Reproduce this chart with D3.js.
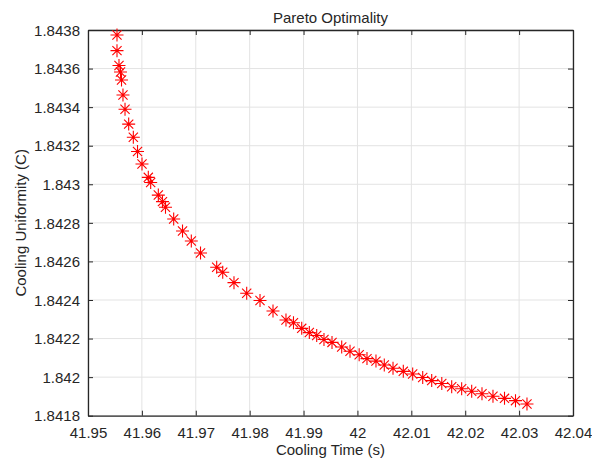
<!DOCTYPE html>
<html><head><meta charset="utf-8">
<script src="https://cdn.jsdelivr.net/npm/d3@7"></script>
<style>body{margin:0;background:#fff}svg{display:block}text{font-family:"Liberation Sans",Arial,sans-serif;fill:#262626}</style>
</head><body><svg id="c" width="592" height="459"></svg>
<script>
const coolingTime = [41.95538,41.95538,41.95575,41.95603,41.95622,41.95649,41.95687,41.95755,41.95841,41.95919,
41.96002,41.96119,41.96163,41.96305,41.96382,41.96438,41.96590,41.96754,41.96917,41.97088,
41.97388,41.97500,41.97709,41.97945,41.98192,41.98433,41.98674,41.98813,41.98966,41.99107,
41.99244,41.99379,41.99528,41.99708,41.99862,42.00032,42.00177,42.00344,42.00498,42.00660,
42.00851,42.01025,42.01211,42.01378,42.01565,42.01749,42.01934,42.02120,42.02311,42.02515,
42.02729,42.02933,42.03146];
const coolingUniformity = [1.843774,1.843693,1.843616,1.843582,1.843541,1.843463,1.843389,1.843312,1.843244,1.843170,
1.843105,1.843036,1.843009,1.842944,1.842910,1.842881,1.842820,1.842758,1.842706,1.842644,
1.842570,1.842544,1.842490,1.842435,1.842397,1.842343,1.842296,1.842282,1.842253,1.842231,
1.842216,1.842195,1.842180,1.842156,1.842134,1.842116,1.842096,1.842083,1.842063,1.842046,
1.842030,1.842016,1.841998,1.841982,1.841967,1.841950,1.841940,1.841927,1.841914,1.841901,
1.841890,1.841878,1.841861];
const xTicks = [41.95,41.96,41.97,41.98,41.99,42,42.01,42.02,42.03,42.04];
const yTicks = [1.8418,1.842,1.8422,1.8424,1.8426,1.8428,1.843,1.8432,1.8434,1.8436,1.8438];
const titleText = "Pareto Optimality";
const xLabel = "Cooling Time (s)";
const yLabel = "Cooling Uniformity (C)";

const svg = d3.select("#c");
const L=88, R=573, T=30, B=415.7;
const x = d3.scaleLinear().domain([41.95,42.04]).range([L,R]);
const y = d3.scaleLinear().domain([1.8418,1.8438]).range([B,T]);
const axCol = "#262626";

// grid
svg.append("g").selectAll("line").data(xTicks).join("line")
  .attr("x1",d=>x(d)).attr("x2",d=>x(d)).attr("y1",T).attr("y2",B)
  .attr("stroke","#e3e3e3").attr("stroke-width",1);
svg.append("g").selectAll("line").data(yTicks).join("line")
  .attr("y1",d=>y(d)).attr("y2",d=>y(d)).attr("x1",L).attr("x2",R)
  .attr("stroke","#e3e3e3").attr("stroke-width",1);

const fmt = d=>String(+d.toFixed(4));
// axes
const gx = svg.append("g").attr("transform",`translate(0,${B})`)
  .call(d3.axisBottom(x).tickValues(xTicks).tickFormat(fmt).tickSizeInner(-5).tickSizeOuter(0).tickPadding(12));
const gxt = svg.append("g").attr("transform",`translate(0,${T})`)
  .call(d3.axisTop(x).tickValues(xTicks).tickFormat("").tickSizeInner(-5).tickSizeOuter(0));
const gy = svg.append("g").attr("transform",`translate(${L},0)`)
  .call(d3.axisLeft(y).tickValues(yTicks).tickFormat(fmt).tickSizeInner(-5).tickSizeOuter(0).tickPadding(8));
const gyr = svg.append("g").attr("transform",`translate(${R},0)`)
  .call(d3.axisRight(y).tickValues(yTicks).tickFormat("").tickSizeInner(-5).tickSizeOuter(0));
[gx,gxt,gy,gyr].forEach(g=>{
  g.selectAll("path.domain").attr("stroke",axCol).attr("stroke-width",1.3);
  g.selectAll(".tick line").attr("stroke",axCol);
  g.selectAll("text").attr("font-size",15).attr("fill",axCol).style("font-family","Liberation Sans, Arial, sans-serif");
});
gy.selectAll("text").attr("dy","0.35em");

// markers
const r = 6.5, d2 = r*0.7071;
const star = `M${-r},0L${r},0M0,${-r}L0,${r}M${-d2},${-d2}L${d2},${d2}M${-d2},${d2}L${d2},${-d2}`;
svg.append("g").selectAll("path").data(coolingTime.map((t,i)=>[t,coolingUniformity[i]])).join("path")
  .attr("transform",d=>`translate(${x(d[0])},${y(d[1])})`)
  .attr("d",star).attr("fill","none").attr("stroke","#ff0000").attr("stroke-width",1.1);

// labels
svg.append("text").attr("x",(L+R)/2).attr("y",23).attr("text-anchor","middle").attr("font-size",15).text(titleText);
svg.append("text").attr("x",(L+R)/2).attr("y",455).attr("text-anchor","middle").attr("font-size",15).text(xLabel);
svg.append("text").attr("transform",`translate(26,${(T+B)/2}) rotate(-90)`).attr("text-anchor","middle").attr("font-size",15).text(yLabel);
</script></body></html>
